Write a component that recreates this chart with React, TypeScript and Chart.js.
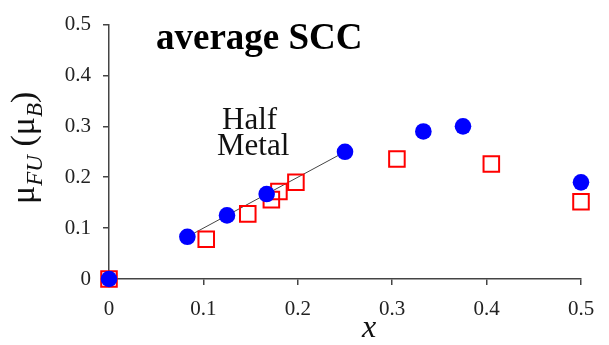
import React, { useEffect, useRef } from "react";
import { Chart, registerables } from "chart.js";

Chart.register(...registerables);

const TICK_VALUES = [0, 0.1, 0.2, 0.3, 0.4, 0.5];
const TICK_LABELS = ["0", "0.1", "0.2", "0.3", "0.4", "0.5"];

const BLUE_X = [0, 0.083, 0.125, 0.167, 0.25, 0.333, 0.375, 0.5];
const BLUE_Y = [0, 0.083, 0.125, 0.167, 0.25, 0.29, 0.3, 0.19];

const RED_X = [0, 0.103, 0.147, 0.172, 0.18, 0.198, 0.305, 0.405, 0.5];
const RED_Y = [0, 0.078, 0.128, 0.156, 0.172, 0.19, 0.236, 0.226, 0.152];

const LINE_X = [0.083, 0.25];
const LINE_Y = [0.083, 0.25];

const TITLE_TEXT = "average SCC";
const NOTE_LINES = ["Half", "Metal"];
const X_TITLE = "x";

const SERIF = "'Liberation Serif', 'Times New Roman', serif";

const pts = (xs: number[], ys: number[]) => xs.map((x, i) => ({ x, y: ys[i] }));

const textPlugin = {
  id: "textPlugin",
  afterDraw(chart: any) {
    const ctx = chart.ctx as CanvasRenderingContext2D;
    ctx.save();
    ctx.fillStyle = "#000";
    ctx.textBaseline = "alphabetic";
    ctx.textAlign = "left";
    // bold title
    ctx.font = `bold 37px ${SERIF}`;
    ctx.fillText(TITLE_TEXT, 156, 49);
    // Half Metal
    ctx.font = `31px ${SERIF}`;
    ctx.fillStyle = "#111";
    ctx.fillText(NOTE_LINES[0], 222, 129);
    ctx.fillText(NOTE_LINES[1], 217, 155);
    // x title
    ctx.font = `italic 32px ${SERIF}`;
    ctx.textAlign = "center";
    ctx.fillText(X_TITLE, 369, 337);
    // y title rotated
    ctx.translate(34, 204);
    ctx.rotate(-Math.PI / 2);
    ctx.textAlign = "left";
    let cx = 0;
    const part = (t: string, font: string, dy: number) => {
      ctx.font = font;
      ctx.fillText(t, cx, dy);
      cx += ctx.measureText(t).width;
    };
    const big = `34px ${SERIF}`;
    const sub = `italic 23px ${SERIF}`;
    part("\u03bc", big, 0);
    part("FU", sub, 8);
    part(" (", big, 0);
    part("\u03bc", big, 0);
    part("B", sub, 8);
    part(")", big, 0);
    ctx.restore();
  },
};

export default function App() {
  const ref = useRef<HTMLCanvasElement | null>(null);
  useEffect(() => {
    document.body.style.margin = "0";
    const canvas = ref.current!;
    const axisColor = "#444";
    const tickFont = { family: SERIF, size: 21 };
    const chart = new Chart(canvas, {
      type: "scatter",
      data: {
        datasets: [
          {
            label: "blue",
            data: pts(BLUE_X, BLUE_Y),
            pointStyle: "circle",
            pointRadius: 8.3,
            pointBackgroundColor: "#0000ff",
            pointBorderWidth: 0,
            borderWidth: 0,
            showLine: false,
            order: 0,
            clip: false,
          } as any,
          {
            label: "red",
            data: pts(RED_X, RED_Y),
            pointStyle: "rect",
            pointRadius: 11,
            pointBackgroundColor: "rgba(0,0,0,0)",
            pointBorderColor: "#ff0000",
            pointBorderWidth: 2,
            showLine: false,
            order: 1,
            clip: false,
          } as any,
          {
            label: "line",
            data: pts(LINE_X, LINE_Y),
            showLine: true,
            borderColor: "#444",
            borderWidth: 1,
            pointRadius: 0,
            order: 2,
            clip: false,
          } as any,
        ],
      },
      options: {
        responsive: false,
        animation: false,
        events: [],
        layout: { padding: { top: 12, right: 28, left: 0, bottom: 0 } },
        plugins: {
          legend: { display: false },
          tooltip: { enabled: false },
        },
        scales: {
          x: {
            type: "linear",
            min: 0,
            max: 0.5,
            afterBuildTicks: (s: any) => {
              s.ticks = TICK_VALUES.map((v) => ({ value: v }));
            },
            afterFit: (s: any) => {
              s.height = 66;
            },
            ticks: {
              callback: (_v: any, i: number) => TICK_LABELS[i],
              font: tickFont,
              color: "#222",
              padding: 12,
              maxRotation: 0,
            },
            grid: {
              drawOnChartArea: false,
              drawTicks: true,
              tickLength: 6,
              color: axisColor,
              lineWidth: 1.5,
            },
            border: { display: true, color: axisColor, width: 1.5 },
          },
          y: {
            type: "linear",
            min: 0,
            max: 0.5,
            afterBuildTicks: (s: any) => {
              s.ticks = TICK_VALUES.map((v) => ({ value: v }));
            },
            afterFit: (s: any) => {
              s.width = 109;
            },
            ticks: {
              callback: (_v: any, i: number) => TICK_LABELS[i],
              font: tickFont,
              color: "#222",
              padding: 12,
            },
            grid: {
              drawOnChartArea: false,
              drawTicks: true,
              tickLength: 6,
              color: axisColor,
              lineWidth: 1.5,
            },
            border: { display: true, color: axisColor, width: 1.5 },
          },
        },
      },
      plugins: [textPlugin],
    });
    return () => chart.destroy();
  }, []);
  return (
    <div style={{ position: "absolute", left: 0, top: 0, width: 609, height: 345, background: "#fff" }}>
      <canvas ref={ref} width={609} height={345} style={{ display: "block" }} />
    </div>
  );
}
